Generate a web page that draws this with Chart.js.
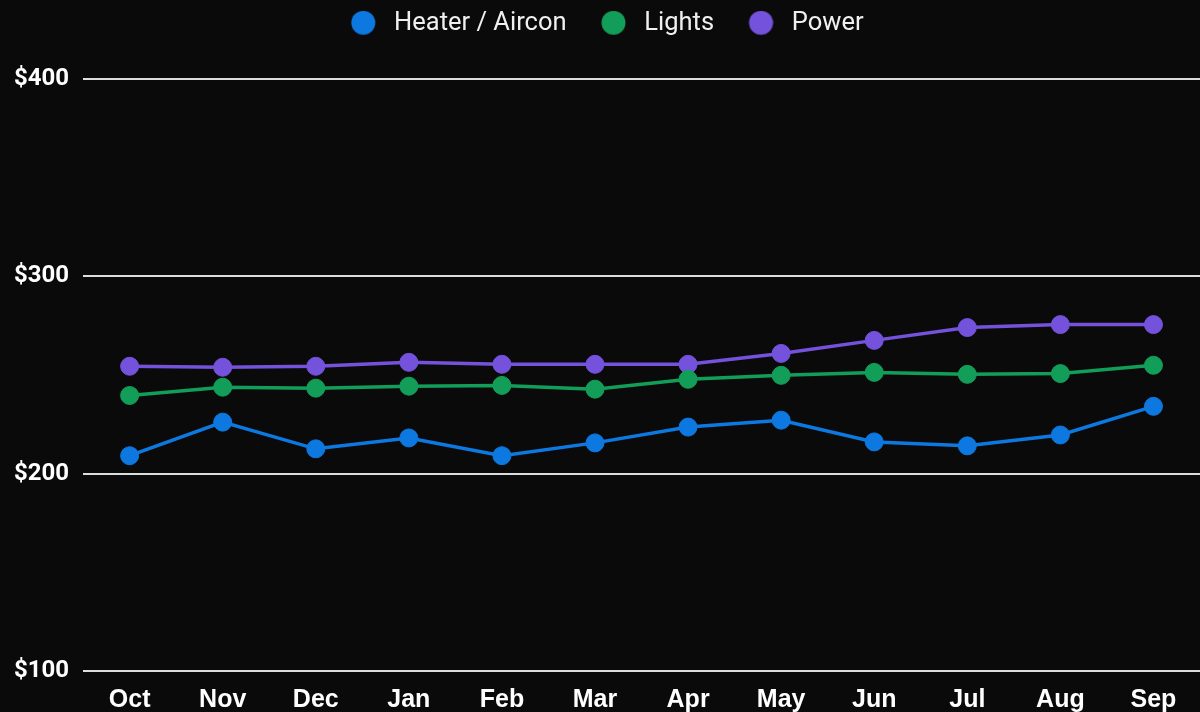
<!DOCTYPE html>
<html>
<head>
<meta charset="utf-8">
<script src="https://cdn.jsdelivr.net/npm/chart.js@4/dist/chart.umd.min.js"></script>
<style>
  html, body { margin: 0; padding: 0; background: #0a0a0a; }
  #wrap { width: 1200px; height: 712px; }
</style>
</head>
<body>
<div id="wrap"><canvas id="chart" width="1200" height="712"></canvas></div>
<script>
// Monthly cost data
const months = ['Oct', 'Nov', 'Dec', 'Jan', 'Feb', 'Mar', 'Apr', 'May', 'Jun', 'Jul', 'Aug', 'Sep'];
const heater = [209, 226, 212.5, 218, 209, 215.5, 223.5, 227, 216, 214, 219.5, 234];
const lights = [239.5, 243.7, 243.2, 244.2, 244.6, 242.7, 247.7, 249.7, 251.2, 250.2, 250.6, 254.8];
const power = [254.3, 253.8, 254.3, 256.3, 255.3, 255.3, 255.3, 260.8, 267.4, 273.9, 275.4, 275.4];
const yTicks = [100, 200, 300, 400];

const colors = {
  heater: 'rgb(12, 120, 224)',
  lights: 'rgb(18, 158, 88)',
  power: 'rgb(116, 82, 220)'
};

// legend dot drawn into a small canvas, shifted right a bit so the
// spacing between legend items comes out wider
function legendDot(color) {
  const c = document.createElement('canvas');
  c.width = 44;
  c.height = 26;
  const g = c.getContext('2d');
  g.fillStyle = color;
  g.beginPath();
  g.arc(31.4, 12, 12, 0, Math.PI * 2);
  g.fill();
  return c;
}
const dots = [legendDot(colors.heater), legendDot(colors.lights), legendDot(colors.power)];

function series(label, data, color) {
  return {
    label: label,
    data: data,
    borderColor: color,
    backgroundColor: color,
    borderWidth: 3.5,
    pointRadius: 9,
    pointHoverRadius: 9,
    pointBorderWidth: 1,
    tension: 0
  };
}

// extra space under the legend, and nudge it a bit
const legendMargin = {
  id: 'legendMargin',
  beforeInit(chart) {
    const fit = chart.legend.fit;
    chart.legend.fit = function () {
      fit.bind(chart.legend)();
      this.height += 33;
    };
  },
  afterLayout(chart) {
    chart.legend.left -= 5;
    chart.legend.right -= 5;
    chart.legend.top += 1;
  }
};

const ctx = document.getElementById('chart').getContext('2d');

new Chart(ctx, {
  type: 'line',
  data: {
    labels: months,
    datasets: [
      series('Heater / Aircon', heater, colors.heater),
      series('Lights', lights, colors.lights),
      series('Power', power, colors.power)
    ]
  },
  plugins: [legendMargin],
  options: {
    responsive: false,
    animation: false,
    layout: { autoPadding: false, padding: 0 },
    plugins: {
      legend: {
        labels: {
          color: '#f0f0f0',
          usePointStyle: true,
          pointStyleWidth: 55,
          boxHeight: 17,
          padding: 10,
          font: { family: 'Roboto', size: 25.5 },
          generateLabels: (chart) => {
            const items = Chart.defaults.plugins.legend.labels.generateLabels(chart);
            items.forEach((it, i) => { it.pointStyle = dots[i]; });
            return items;
          }
        }
      },
      tooltip: { enabled: false }
    },
    scales: {
      x: {
        offset: true,
        grid: { display: false, drawTicks: false },
        border: { display: false },
        afterFit: (axis) => { axis.height -= 17; },
        ticks: {
          color: '#ffffff',
          font: { family: '"Liberation Sans", Arial', size: 25, weight: 'bold' },
          padding: 14
        }
      },
      y: {
        min: yTicks[0],
        max: yTicks[yTicks.length - 1],
        afterBuildTicks: (axis) => { axis.ticks = yTicks.map(v => ({ value: v })); },
        grid: { color: '#dddddd', lineWidth: 2, drawTicks: false },
        border: { display: false },
        ticks: {
          color: '#ffffff',
          padding: 14,
          font: { family: 'Roboto', size: 24, weight: 'bold' },
          callback: (v) => '$' + v
        }
      }
    }
  }
});
</script>
</body>
</html>
